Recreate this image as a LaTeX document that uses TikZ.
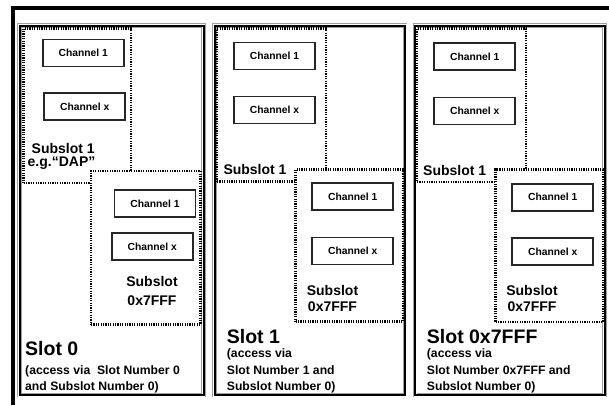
\documentclass[tikz,border=0pt]{standalone}
\usepackage{fontspec}
\setmainfont{Liberation Sans}
\usepackage{tikz}
\tikzset{
	slotbox/.style={draw=black, line width=2pt, inner sep=0pt, outer sep=0pt,
		preaction={draw=gray!75, line width=0.7pt, double=white, double distance=3pt}},
	subbox/.style={draw=black, line width=2.6pt, dash pattern=on 1.2pt off 1.2pt, inner sep=0pt, outer sep=0pt},
	chanbox/.style={draw=black!85, line width=1.6pt, fill=white, minimum width=81pt, minimum height=27pt,
		inner sep=0pt, font=\bfseries\fontsize{10.3}{12}\selectfont},
	subtext/.style={inner sep=0pt, font=\bfseries\fontsize{14}{17}\selectfont},
	slottext/.style={inner sep=0pt, anchor=base west, font=\bfseries\fontsize{19.5}{22}\selectfont},
	accesstext/.style={inner sep=0pt, anchor=north west, align=left, font=\bfseries\fontsize{12.2}{16.5}\selectfont}
}

\begin{document}
\begin{tikzpicture}[x=1pt, y=-1pt]
	\useasboundingbox (0,0) rectangle (609,405);
	% outer frame
	\draw[line width=4pt] (609,8) -- (13,8) -- (13,405);

	% slot 0
	\node[slotbox, minimum width=184pt, minimum height=369.5pt] (slot0) at (111.5,210.25) {};
	\node[subbox, minimum width=107.5pt, minimum height=154.5pt] (s0sub1) at (77.25,105.75) {};
	\node[chanbox] (s0ch1) at (83.3,53) {Channel 1};
	\node[chanbox] (s0chx) at (84.7,106.7) {Channel x};
	\node[subtext, anchor=base west] (s0sub1a) at (31.5,153) {Subslot 1};
	\node[subtext, anchor=base west] (s0sub1b) at (27.5,166.5) {e.g.“DAP”};
	\node[subbox, fill=white, minimum width=109.5pt, minimum height=153.5pt] (s0subf) at (145.75,247.75) {};
	\node[chanbox] (s0ch1b) at (155,203.7) {Channel 1};
	\node[chanbox] (s0chxb) at (152.3,246.7) {Channel x};
	\node[subtext, anchor=north, align=center, font=\bfseries\fontsize{14}{18.3}\selectfont] (s0subft) at (152,276.5) {Subslot\\0x7FFF};
	\node[slottext] (s0name) at (25,355) {Slot 0};
	\node[accesstext, font=\bfseries\fontsize{12.2}{16.4}\selectfont] (s0acc) at (25,365.2) {(access via\ \ Slot Number 0\\and Subslot Number 0)};

	% slot 1
	\node[slotbox, minimum width=190.5pt, minimum height=369.5pt] (slot1) at (309.75,210.25) {};
	\node[subbox, minimum width=109pt, minimum height=153pt] (s1sub1) at (271.5,105) {};
	\node[chanbox] (s1ch1) at (274.5,56) {Channel 1};
	\node[chanbox] (s1chx) at (274.5,110) {Channel x};
	\node[subtext, anchor=base west] (s1sub1a) at (223.3,174) {Subslot 1};
	\node[subbox, fill=white, minimum width=107.5pt, minimum height=152pt] (s1subf) at (349.25,245.5) {};
	\node[chanbox] (s1ch1b) at (352.7,196.7) {Channel 1};
	\node[chanbox] (s1chxb) at (352.7,250.8) {Channel x};
	\node[subtext, anchor=north, align=center, font=\bfseries\fontsize{14}{16.5}\selectfont] (s1subft) at (332.5,284.8) {Subslot\\0x7FFF};
	\node[slottext] (s1name) at (226.7,343) {Slot 1};
	\node[accesstext] (s1acc) at (226.7,348.5) {(access via\\Slot Number 1 and\\Subslot Number 0)};

	% slot 0x7FFF
	\node[slotbox, minimum width=189.5pt, minimum height=369.5pt] (slot2) at (509.75,210.25) {};
	\node[subbox, minimum width=109pt, minimum height=153.5pt] (s2sub1) at (471.5,105.25) {};
	\node[chanbox] (s2ch1) at (474.7,56.7) {Channel 1};
	\node[chanbox] (s2chx) at (474.7,111) {Channel x};
	\node[subtext, anchor=base west] (s2sub1a) at (423,175) {Subslot 1};
	\node[subbox, fill=white, minimum width=107.5pt, minimum height=152.5pt] (s2subf) at (549.25,245.75) {};
	\node[chanbox] (s2ch1b) at (552.7,197.3) {Channel 1};
	\node[chanbox] (s2chxb) at (552.7,251.5) {Channel x};
	\node[subtext, anchor=north, align=center, font=\bfseries\fontsize{14}{16.5}\selectfont] (s2subft) at (532,284.8) {Subslot\\0x7FFF};
	\node[slottext] (s2name) at (426.7,343) {Slot 0x7FFF};
	\node[accesstext] (s2acc) at (426.7,348.5) {(access via\\Slot Number 0x7FFF and\\Subslot Number 0)};
\end{tikzpicture}
\end{document}
